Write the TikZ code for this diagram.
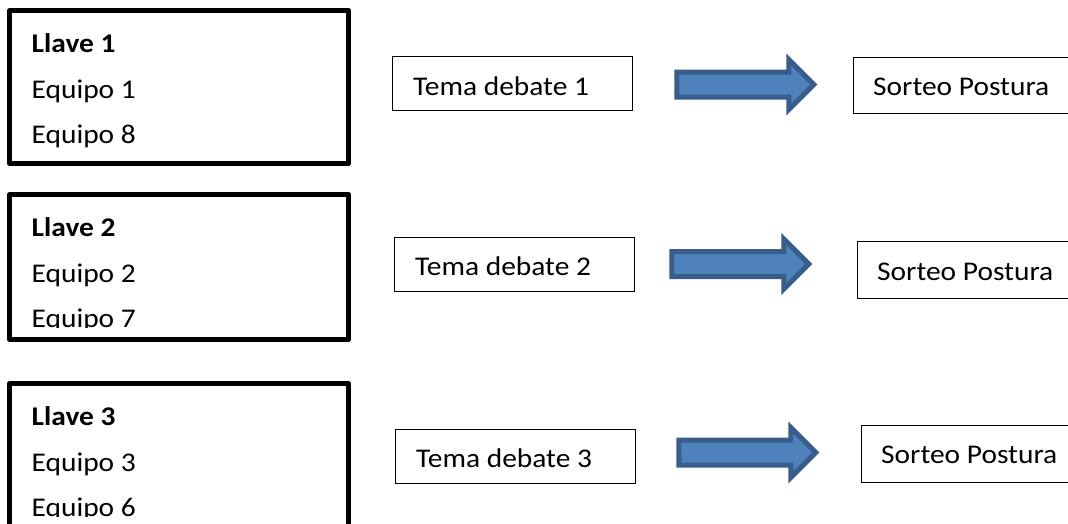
\documentclass[tikz,border=0pt]{standalone}
\usepackage{fontspec}
\setmainfont[FakeStretch=1.09]{Carlito}
\usetikzlibrary{shapes.arrows}
\definecolor{arrowfill}{HTML}{4F81BD}
\definecolor{arrowline}{HTML}{385D8A}
\tikzset{
  x=1pt,y=-1pt,
  llavebox/.style={draw=black,line width=5pt,line join=round},
  thinbox/.style={draw=black,line width=1pt},
  label/.style={anchor=base west,inner sep=0pt,font=\fontsize{27}{32}\selectfont,text=black},
  boldlabel/.style={label,font=\fontsize{27}{32}\selectfont\bfseries},
  blockarrow/.style={single arrow,draw=arrowline,fill=arrowfill,line width=5pt,
    inner sep=0pt,outer sep=0pt,minimum height=137pt,minimum width=45pt,
    single arrow head extend=12.5pt,single arrow head indent=0pt,
    text height=20pt,text depth=0pt,anchor=center}
}
\begin{document}
\begin{tikzpicture}
\useasboundingbox (0,0) rectangle (1068,523);
\clip (0,0) rectangle (1068,523);
\fill[white] (0,0) rectangle (1068,523);
% Llave boxes
\draw[llavebox] (9.5,10.5) rectangle (348.5,163.5);
\draw[llavebox] (9.5,194.5) rectangle (348.5,339.5);
\draw[llavebox] (9.5,383.5) rectangle (348.5,540);
\node[boldlabel] (l1) at (31.5,52) {Llave 1};
\node[label] (e1) at (31.5,98) {Equipo 1};
\node[label] (e8) at (31.5,143) {Equipo 8};
\node[boldlabel] (l2) at (31.5,236) {Llave 2};
\node[label] (e2) at (31.5,282) {Equipo 2};
\begin{scope}
\clip (20,300) rectangle (340,327);
\node[label] (e7) at (31.5,327) {Equipo 7};
\end{scope}
\node[boldlabel] (l3) at (31.5,425) {Llave 3};
\node[label] (e3) at (31.5,471) {Equipo 3};
\begin{scope}
\clip (20,490) rectangle (340,516);
\node[label] (e6) at (31.5,516) {Equipo 6};
\end{scope}
% Tema boxes
\draw[thinbox] (392.5,56.5) rectangle (632.5,110);
\draw[thinbox] (394.5,237.5) rectangle (634.5,291);
\draw[thinbox] (395.5,429.5) rectangle (635.5,483);
\node[label] (t1) at (413,95) {Tema debate 1};
\node[label] (t2) at (415,275) {Tema debate 2};
\node[label] (t3) at (416,467) {Tema debate 3};
% Arrows
\node[blockarrow] (a1) at (739,84.5) {};
\node[blockarrow] (a2) at (734,264) {};
\node[blockarrow] (a3) at (741,452.5) {};
% Sorteo boxes
\draw[thinbox] (853.5,57.5) rectangle (1075,113.5);
\draw[thinbox] (857.5,241.5) rectangle (1075,298);
\draw[thinbox] (861.5,425.5) rectangle (1075,482);
\node[label] (s1) at (873,95) {Sorteo Postura};
\node[label] (s2) at (877,280) {Sorteo Postura};
\node[label] (s3) at (881,463) {Sorteo Postura};
\end{tikzpicture}
\end{document}
